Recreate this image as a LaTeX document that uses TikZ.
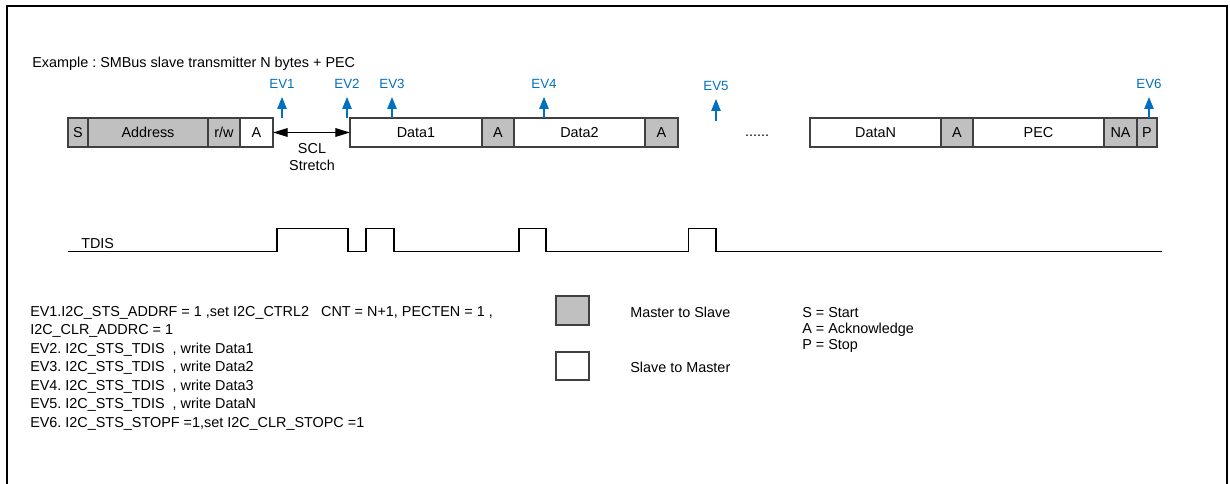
\documentclass[tikz,border=0pt]{standalone}
\usepackage{fontspec}
\setmainfont{Liberation Sans}
\usetikzlibrary{positioning}
\usetikzlibrary{arrows.meta}
\definecolor{evblue}{RGB}{0,112,192}
\definecolor{mgray}{RGB}{192,192,192}
\definecolor{boxline}{RGB}{64,64,64}
\frenchspacing

\begin{document}
\begin{tikzpicture}[x=0.75pt, y=-0.75pt,
        every node/.style={font=\fontsize{10.8}{13}\selectfont},
        mbox/.style={draw=boxline, line width=0.8pt, fill=mgray, minimum height=21.75pt, inner sep=0pt, outer sep=0pt},
        sbox/.style={mbox, fill=white},
        evlabel/.style={text=evblue, font=\fontsize{10}{12}\selectfont, inner sep=0pt},
        evarrow/.style={evblue, line width=1.1pt, -{Triangle[length=9pt, width=7pt]}, shorten >=6pt},
        stretch/.style={line width=0.9pt, {Triangle[length=11pt, width=6.5pt]}-{Triangle[length=11pt, width=6.5pt]}},
        signal/.style={line width=0.9pt}]
        \useasboundingbox (0,0) rectangle (1230,484);

        % Frame
        \draw[line width=1.5pt] (6.5,484) -- (6.5,6) -- (1227,6) -- (1227,484);

        \node[anchor=west, inner sep=0pt] (title) at (32,64) {Example : SMBus slave transmitter N bytes + PEC};

        % Address phase
        \node[mbox, minimum width=15pt, anchor=west] (sbit) at (68,132.5) {S};
        \node[mbox, minimum width=90pt, right=0pt of sbit] (addr) {Address};
        \node[mbox, minimum width=24pt, right=0pt of addr] (rw) {r/w};
        \node[sbox, minimum width=24.75pt, right=0pt of rw] (ack0) {A};

        % Data bytes
        \node[sbox, minimum width=99pt, anchor=west] (data1) at (350,132.5) {Data1};
        \node[mbox, minimum width=24pt, right=0pt of data1] (ack1) {A};
        \node[sbox, minimum width=98.25pt, right=0pt of ack1] (data2) {Data2};
        \node[mbox, minimum width=24.75pt, right=0pt of data2] (ack2) {A};
        \node (dots) at (757,136) {......};
        \node[sbox, minimum width=98.25pt, anchor=west] (datan) at (810,132.5) {DataN};
        \node[mbox, minimum width=24pt, right=0pt of datan] (ackn) {A};
        \node[sbox, minimum width=98.25pt, right=0pt of ackn] (pec) {PEC};
        \node[mbox, minimum width=24.75pt, right=0pt of pec] (nack) {NA};
        \node[mbox, minimum width=15pt, right=0pt of nack] (pbit) {P};

        % SCL stretch
        \draw[stretch] (ack0.east) -- (data1.west);
        \node[align=center, font=\fontsize{10.8}{12.75}\selectfont] (scl) at (312,157.5) {SCL\\Stretch};

        % Events
        \node[evlabel] (ev1) at (282,84) {EV1};
        \node[evlabel] (ev2) at (347,84) {EV2};
        \node[evlabel] (ev3) at (392,84) {EV3};
        \node[evlabel] (ev4) at (544,84) {EV4};
        \node[evlabel] (ev5) at (716,86) {EV5};
        \node[evlabel] (ev6) at (1149,84) {EV6};
        \coordinate (ev1b) at (282,118);
        \coordinate (ev2b) at (347,118);
        \coordinate (ev3b) at (392,118);
        \coordinate (ev4b) at (544,118);
        \coordinate (ev5b) at (716,121);
        \coordinate (ev6b) at (1149,118);
        \foreach \e in {1,...,6}
            \draw[evarrow] (ev\e b) -- (ev\e);

        % TDIS waveform
        \node[anchor=west, inner sep=0pt] (tdis) at (81,243.5) {TDIS};
        \draw[signal] (68,251.5) -- (277,251.5) |- (348,228.5) |- (366,251.5) |- (394,228.5)
            |- (519,251.5) |- (546,228.5) |- (688.5,251.5) |- (716,228.5) |- (1162,251.5);

        % Event notes
        \node[anchor=north west, align=left, inner sep=0pt, font=\fontsize{10.8}{13.9}\selectfont] (notes) at (30,306) {%
            EV1.I2C\_STS\_ADDRF = 1 ,set I2C\_CTRL2 \ \ CNT = N+1, PECTEN = 1 ,\\
            I2C\_CLR\_ADDRC = 1\\
            EV2. I2C\_STS\_TDIS \ , write Data1\\
            EV3. I2C\_STS\_TDIS \ , write Data2\\
            EV4. I2C\_STS\_TDIS \ , write Data3\\
            EV5. I2C\_STS\_TDIS \ , write DataN\\
            EV6. I2C\_STS\_STOPF =1,set I2C\_CLR\_STOPC =1};

        % Legend
        \node[mbox, minimum width=24.75pt, minimum height=21.75pt] (mlegend) at (572.5,310.5) {};
        \node[sbox, minimum width=24.75pt, minimum height=21pt] (slegend) at (572.5,366) {};
        \node[anchor=west, inner sep=0pt] (mtext) at (630,312) {Master to Slave};
        \node[anchor=west, inner sep=0pt] (stext) at (630,367) {Slave to Master};
        \node[anchor=north west, align=left, inner sep=0pt, font=\fontsize{10.8}{12}\selectfont] (abbr) at (802,307) {%
            S = Start\\
            A = Acknowledge\\
            P = Stop};
    \end{tikzpicture}
\end{document}
